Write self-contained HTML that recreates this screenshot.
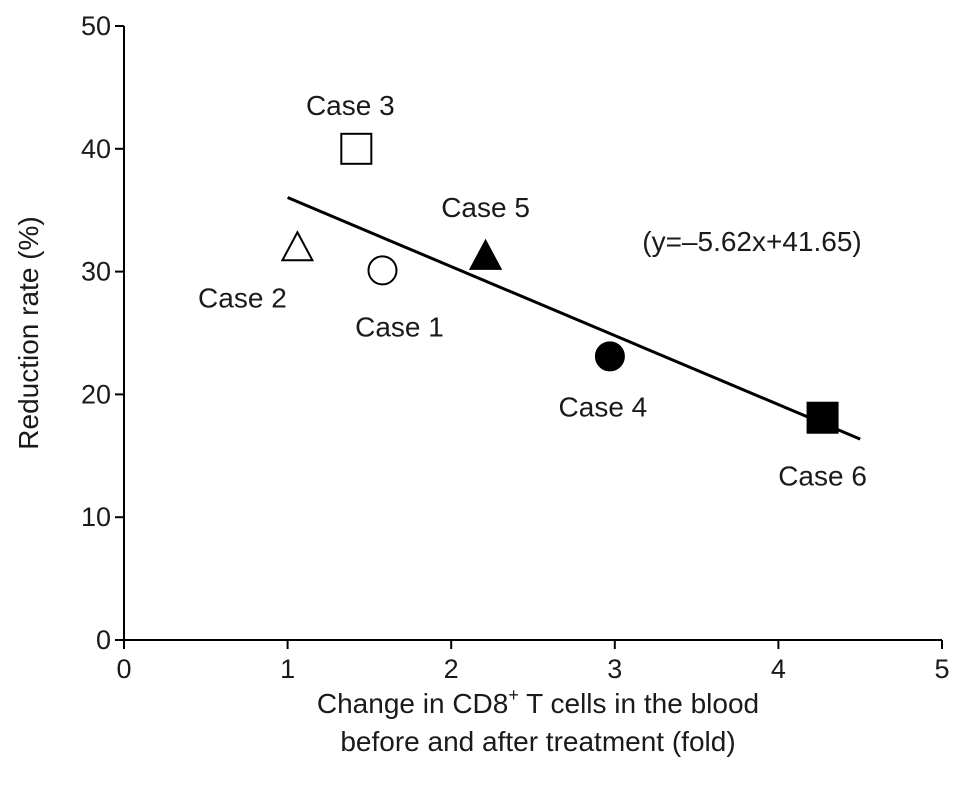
<!DOCTYPE html>
<html><head><meta charset="utf-8"><style>
body{margin:0;background:#fff}
svg text{font-family:"Liberation Sans",Arial,sans-serif;fill:#1a1a1a}
</style></head><body>
<svg id="chart" width="969" height="802" viewBox="0 0 969 802"></svg>
<script>
const xTicks=[0,1,2,3,4,5];
const yTicks=[0,10,20,30,40,50];
const caseNames=["Case 1","Case 2","Case 3","Case 4","Case 5","Case 6"];
const xVals=[1.58,1.06,1.42,2.97,2.21,4.27];
const yVals=[30.1,31.9,40.0,23.1,31.2,18.1];
const markers=["circle-open","triangle-open","square-open","circle-filled","triangle-filled","square-filled"];
const labelOffsets=[[17,67],[-55,60],[-6,-33],[-7,61],[0,-39],[0,69]];
const slope=-5.62, intercept=41.65, fitRange=[1,4.5];

const NS="http://www.w3.org/2000/svg";
const svg=document.getElementById('chart');
const X0=124,X1=942,Y0=640,Y1=26;
const sx=v=>X0+(X1-X0)*v/5;
const sy=v=>Y0-(Y0-Y1)*v/50;
function mk(tag,attrs,parent){const e=document.createElementNS(NS,tag);for(const k in attrs)e.setAttribute(k,attrs[k]);(parent||svg).appendChild(e);return e;}

let ax=mk('line',{x1:X0,y1:Y0,x2:X1,y2:Y0,stroke:'#000','stroke-width':2});


let ay=mk('line',{x1:X0,y1:Y0,x2:X0,y2:Y1,stroke:'#000','stroke-width':2});



xTicks.forEach(t=>{
  let l=mk('line',{x1:sx(t),y1:Y0,x2:sx(t),y2:Y0+9,stroke:'#000','stroke-width':2});
  
  
  let tx=mk('text',{x:sx(t),y:Y0+38,'text-anchor':'middle','font-size':27});
  tx.textContent=t;
  
  
});
yTicks.forEach(t=>{
  let l=mk('line',{x1:X0-9,y1:sy(t),x2:X0,y2:sy(t),stroke:'#000','stroke-width':2});
  
  
  let tx=mk('text',{x:X0-13,y:sy(t)+9,'text-anchor':'end','font-size':27});
  tx.textContent=t;
  
  
});

let fit=mk('line',{x1:sx(fitRange[0]),y1:sy(slope*fitRange[0]+intercept),x2:sx(fitRange[1]),y2:sy(slope*fitRange[1]+intercept),stroke:'#000','stroke-width':3});



xVals.forEach((xv,i)=>{
  const cx=sx(xv),cy=sy(yVals[i]),m=markers[i],filled=m.endsWith('filled');
  const st={fill:filled?'#000':'#fff',stroke:'#000','stroke-width':2};
  let e;
  if(m.startsWith('circle')) e=mk('circle',Object.assign({cx,cy,r:14},st));
  else if(m.startsWith('square')) e=mk('rect',Object.assign({x:cx-15,y:cy-15,width:30,height:30},st));
  else e=mk('polygon',Object.assign({points:`${cx},${cy-16} ${cx+15},${cy+12} ${cx-15},${cy+12}`},st));
  
  
  let lb=mk('text',{x:cx+labelOffsets[i][0],y:cy+labelOffsets[i][1]-1,'text-anchor':'middle','font-size':28});
  lb.textContent=caseNames[i];
  
  
});

let eq=mk('text',{x:752,y:251,'text-anchor':'middle','font-size':28});
eq.textContent='(y=\u20135.62x+41.65)';



let xt1=mk('text',{x:538,y:713,'text-anchor':'middle','font-size':28});
xt1.innerHTML='Change in CD8<tspan font-size="18" dy="-12">+</tspan><tspan dy="12"> T cells in the blood</tspan>';


let xt2=mk('text',{x:538,y:751,'text-anchor':'middle','font-size':28});
xt2.textContent='before and after treatment (fold)';



let yt=mk('text',{x:0,y:0,'text-anchor':'middle','font-size':28,transform:'translate(38,333) rotate(-90)'});
yt.textContent='Reduction rate (%)';


</script>
</body></html>
